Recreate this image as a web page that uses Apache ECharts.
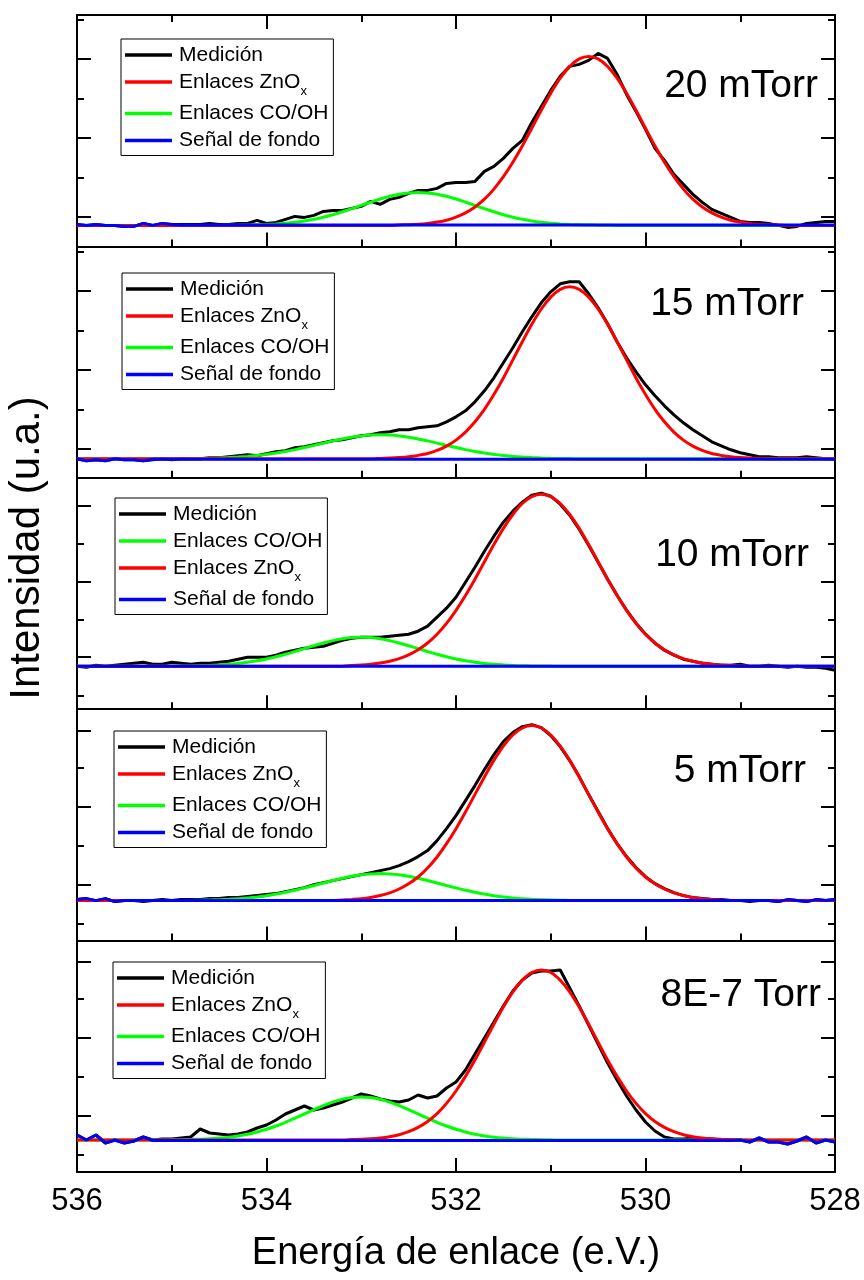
<!DOCTYPE html>
<html><head><meta charset="utf-8">
<script src="https://cdn.jsdelivr.net/npm/echarts@6/dist/echarts.min.js"></script>
<style>html,body{margin:0;padding:0;background:#fff}#c{width:864px;height:1280px}</style>
</head><body><div id="c"></div>
<script>
// ---------- DATA ----------
const energy = [536,535.9,535.8,535.7,535.6,535.5,535.4,535.3,535.2,535.1,
535,534.9,534.8,534.7,534.6,534.5,534.4,534.3,534.2,534.1,
534,533.9,533.8,533.7,533.6,533.5,533.4,533.3,533.2,533.1,
533,532.9,532.8,532.7,532.6,532.5,532.4,532.3,532.2,532.1,
532,531.9,531.8,531.7,531.6,531.5,531.4,531.3,531.2,531.1,
531,530.9,530.8,530.7,530.6,530.5,530.4,530.3,530.2,530.1,
530,529.9,529.8,529.7,529.6,529.5,529.4,529.3,529.2,529.1,
529,528.9,528.8,528.7,528.6,528.5,528.4,528.3,528.2,528.1,
528];
const panelLabels = ['20 mTorr','15 mTorr','10 mTorr','5 mTorr','8E-7 Torr'];
const xTickValues = [536,534,532,530,528];

// 20 mTorr
const meas1 = [22,21,22,21,21,20,20,23,21,23, 22,22,22,22,23,22,22,23,23,26, 23,24,27,30,29,31,35,36,36,38,
 40,45,42,47,49,53,56,56,58,63, 64,64,65,75,80,88,98,106,124,140, 156,170,180,182,186,193,188,172,152,135,
 117,98,86,72,62,52,44,37,33,29, 25,24,24,23,21,19,20,23,24,25, 25];
const zno1 = [21,21,21,21,21,21,21,21,21,21, 21,21,21,21,21,21,21,21,21,21, 21,21,21,21,21,21,21,21,21,21,
 21,21,21,21,21.4,21.7,22.2,23,24.3,26.2, 29.3,33.5,39.4,47.2,57.3,69.7,84.2,100.4,118.2,136.1,
 153.2,168.2,179.9,187.5,190,187.5,179.9,168.2,153.2,136.1, 118.2,100.4,84.2,69.7,57.3,47.2,39.4,33.5,29.3,26.2,
 24.3,23,22.2,21.7,21.4,21,21,21,21,21, 21];
const coh1 = [21,21,21,21,21,21,21,21,21,21, 21,21,21,21,21,21,21.1,21.2,21.4,21.6, 22,22.5,23.2,24.2,25.5,27.1,29.2,31.7,34.6,37.7,
 41,44.3,47.4,50.1,52.2,53.5,54,53.5,52.2,50.1, 47.4,44.3,41,37.7,34.6,31.7,29.2,27.1,25.5,24.2,
 23.2,22.5,22,21.6,21.4,21.2,21.1,21,21,21, 21,21,21,21,21,21,21,21,21,21, 21,21,21,21,21,21,21,21,21,21, 21];
const bg1 = [22,21,22,21,21,20,20,23,21,23, 22,21.5,21.5,21.5,21.5,21.5,21.5,21.5,21.5,21.5,
 21.5,21.5,21.5,21.5,21.5,21.5,21.5,21.5,21.5,21.5, 21.5,21.5,21.5,21.5,21.5,21.5,21.5,21.5,21.5,21.5,
 21.5,21.5,21.5,21.5,21.5,21.5,21.5,21.5,21.5,21.5, 21.5,21.5,21.5,21.5,21.5,21.5,21.5,21.5,21.5,21.5,
 21.5,21.5,21.5,21.5,21.5,21.5,21.5,21.5,21.5,21.5, 21.5,21.5,21.5,21.5,21.5,21.5,21.5,21.5,21.5,21.5, 21.5];

// 15 mTorr
const meas2 = [19,17,18,17,19,18,18,17,18,19, 18,19,19,19,20,20,21,22,23,22, 24,26,27,30,31,33,35,37,38,40,
 42,43,45,46,48,48,50,51,52,56, 61,67,76,87,100,115,130,146,161,175, 186,194,196,196,184,170,154,136,120,106,
 93,82,72,63,55,48,42,36,32,28, 25,23,21,21,20,20,20,21,20,19, 19];
const zno2 = [19,19,19,19,19,19,19,19,19,19, 19,19,19,19,19,19,19,19,19,19, 19,19,19,19,19,19,19,19,19,19,
 19,19,19.4,19.7,20.2,21,22.4,24.3,27.4,31.7, 37.7,45.7,56,68.5,83.3,99.8,117.9,136.1,153.5,168.8,
 180.7,188.4,191,188.4,180.7,168.8,153.5,136.1,117.9,99.8, 83.3,68.5,56,45.7,37.7,31.7,27.4,24.3,22.4,21,
 20.2,19.7,19.4,19,19,19,19,19,19,19, 19];
const coh2 = [19,19,19,19,19,19,19,19,19,19, 19,19,19.2,19.3,19.5,19.8,20.2,20.7,21.4,22.2, 23.4,24.7,26.3,28.2,30.3,32.4,34.7,36.9,38.8,40.6,
 41.9,42.7,43,42.7,41.9,40.6,38.8,36.9,34.7,32.4, 30.3,28.2,26.3,24.7,23.4,22.2,21.4,20.7,20.2,19.8,
 19.5,19.3,19.2,19,19,19,19,19,19,19, 19,19,19,19,19,19,19,19,19,19, 19,19,19,19,19,19,19,19,19,19, 19];
const bg2 = [19,17,18,17,19,18,18,17,18.5,18.5, 18.5,18.5,18.5,18.5,18.5,18.5,18.5,18.5,18.5,18.5,
 18.5,18.5,18.5,18.5,18.5,18.5,18.5,18.5,18.5,18.5, 18.5,18.5,18.5,18.5,18.5,18.5,18.5,18.5,18.5,18.5,
 18.5,18.5,18.5,18.5,18.5,18.5,18.5,18.5,18.5,18.5, 18.5,18.5,18.5,18.5,18.5,18.5,18.5,18.5,18.5,18.5,
 18.5,18.5,18.5,18.5,18.5,18.5,18.5,18.5,18.5,18.5, 18.5,18.5,18.5,18.5,18.5,18.5,18.5,18.5,18.5,18.5, 18.5];

// 10 mTorr
const meas3 = [43,42,44,43,44,45,46,47,45,45, 47,46,45,46,46,47,48,50,52,52, 52,54,57,59,61,62,63,66,69,71,
 72,72,72,73,74,75,78,83,92,101, 112,127,142,158,173,187,198,207,214,216, 213,205,194,180,164,147,130,114,99,86,
 75,66,59,54,50,48,46,45,44,44, 45,43,43,44,43,42,43,42,42,41, 39];
const zno3 = [43,43,43,43,43,43,43,43,43,43, 43,43,43,43,43,43,43,43,43,43, 43,43,43,43,43,43,43,43,43,43.7,
 44.1,44.9,46.1,48,50.6,54.4,59.5,66.2,75,85.8, 98.9,113.7,130,147.4,164.6,180.8,194.7,205.7,212.6,215,
 212.6,205.7,194.7,180.8,164.6,147.4,130,113.7,98.9,85.8, 75,66.2,59.5,54.4,50.6,48,46.1,44.9,44.1,43.7,
 43,43,43,43,43,43,43,43,43,43, 43];
const coh3 = [43,43,43,43,43,43,43,43,43,43, 43.1,43.2,43.3,43.5,43.8,44.3,44.9,45.8,46.9,48.4, 50.2,52.4,54.9,57.7,60.6,63.5,66.2,68.6,70.4,71.6,
 72,71.6,70.4,68.6,66.2,63.5,60.6,57.7,54.9,52.4, 50.2,48.4,46.9,45.8,44.9,44.3,43.8,43.5,43.3,43.2,
 43.1,43,43,43,43,43,43,43,43,43, 43,43,43,43,43,43,43,43,43,43, 43,43,43,43,43,43,43,43,43,43, 43];
const bg3 = [43,43,43,43,43,43,43,43,43,43, 43,43,43,43,43,43,43,43,43,43, 43,43,43,43,43,43,43,43,43,43,
 43,43,43,43,43,43,43,43,43,43, 43,43,43,43,43,43,43,43,43,43, 43,43,43,43,43,43,43,43,43,43,
 43,43,43,43,43,43,43,43,43,43, 43,43,43,43,43,43,43,43,43,43, 43];

// 5 mTorr
const meas4 = [41,42,40,42,39,40,40,39,40,41, 40,41,41,41,42,42,43,43,44,45, 46,47,49,51,53,56,58,60,62,64,
 66,68,70,72,75,79,84,90,100,112, 125,140,155,171,186,199,208,214,216,213, 205,194,180,164,146,129,112,97,84,73,
 64,57,52,48,45,43,42,41,41,40, 40,39,40,40,39,41,40,39,41,40, 41];
const zno4 = [40,40,40,40,40,40,40,40,40,40, 40,40,40,40,40,40,40,40,40,40, 40,40,40,40,40,40,40,40,40.7,41.2,
 41.9,43.2,45.1,47.7,51.6,56.8,63.6,72.6,83.6,96.9, 111.9,128.6,146.2,163.7,180.2,194.4,205.6,212.6,215,212.6,
 205.6,194.4,180.2,163.7,146.2,128.6,111.9,96.9,83.6,72.6, 63.6,56.8,51.6,47.7,45.1,43.2,41.9,41.2,40.7,40,
 40,40,40,40,40,40,40,40,40,40, 40];
const coh4 = [40,40,40,40,40,40,40,40,40,40, 40,40,40.2,40.4,40.6,40.9,41.3,41.9,42.6,43.6, 44.9,46.5,48.3,50.3,52.7,55.1,57.6,60.1,62.3,64.3,
 65.8,66.7,67,66.7,65.8,64.3,62.3,60.1,57.6,55.1, 52.7,50.3,48.3,46.5,44.9,43.6,42.6,41.9,41.3,40.9,
 40.6,40.4,40.2,40,40,40,40,40,40,40, 40,40,40,40,40,40,40,40,40,40, 40,40,40,40,40,40,40,40,40,40, 40];
const bg4 = [41,42,40,42,39,40,40,40,40,40, 40,40,40,40,40,40,40,40,40,40, 40,40,40,40,40,40,40,40,40,40,
 40,40,40,40,40,40,40,40,40,40, 40,40,40,40,40,40,40,40,40,40, 40,40,40,40,40,40,40,40,40,40,
 40,40,40,40,40,40,40,40,40,40, 40,40,40,40,39,41,40,39,41,40, 41];

// 8E-7 Torr
const meas5 = [37,32,37,29,32,29,31,35,32,33, 33,34,35,43,39,38,37,38,40,44, 47,52,58,62,66,62,64,67,70,74,
 78,76,73,71,70,72,77,74,76,84, 90,102,118,134,150,166,181,192,199,201, 201,202,184,166,147,128,109,92,76,62,
 50,41,35,33,33,34,33,33,32,32, 32,30,34,30,30,28,31,35,29,32, 30];
const zno5 = [32,32,32,32,32,32,32,32,32,32, 32,32,32,32,32,32,32,32,32,32, 32,32,32,32,32,32,32,32,32,32.4,
 32.7,33.2,34,35.3,37.3,40.3,44.6,50.5,58.4,68.6, 81,95.6,111.9,129.8,147.8,164.9,180.1,191.8,199.5,202,
 199.5,191.8,180.1,164.9,147.8,129.8,111.9,95.6,81,68.6, 58.4,50.5,44.6,40.3,37.3,35.3,34,33.2,32.7,32.4,
 32,32,32,32,32,32,32,32,32,32, 32];
const coh5 = [32,32,32,32,32,32,32,32,32,32, 32.2,32.3,32.5,32.8,33.2,33.9,34.8,36.1,37.8,40, 42.7,46,49.7,53.8,58.1,62.4,66.4,69.9,72.7,74.4,
 75,74.4,72.7,69.9,66.4,62.4,58.1,53.8,49.7,46, 42.7,40,37.8,36.1,34.8,33.9,33.2,32.8,32.5,32.3,
 32.2,32,32,32,32,32,32,32,32,32, 32,32,32,32,32,32,32,32,32,32, 32,32,32,32,32,32,32,32,32,32, 32];
const bg5 = [37,32,37,29,32,29,31,35,31.5,31.5, 31.5,31.5,31.5,31.5,31.5,31.5,31.5,31.5,31.5,31.5,
 31.5,31.5,31.5,31.5,31.5,31.5,31.5,31.5,31.5,31.5, 31.5,31.5,31.5,31.5,31.5,31.5,31.5,31.5,31.5,31.5,
 31.5,31.5,31.5,31.5,31.5,31.5,31.5,31.5,31.5,31.5, 31.5,31.5,31.5,31.5,31.5,31.5,31.5,31.5,31.5,31.5,
 31.5,31.5,31.5,31.5,31.5,31.5,31.5,31.5,31.5,31.5, 32,30,34,30,30,28,31,35,29,32, 30];

// y tick positions (a.u.) per panel
const yMajorTicks = [[30,109,188],[29,108,187],[52,127,203],[56,134,210],[56,134,210]];
const yMinorTicks = [[69,148,227],[68,147,226],[13,89,165],[17,95,173],[17,95,173]];

// ---------- LAYOUT / STYLE ----------
const N_MEAS = 'Medición', N_ZNO = 'Enlaces ZnOx', N_COH = 'Enlaces CO/OH', N_BG = 'Señal de fondo';
const legendOrders = [
  [N_MEAS, N_ZNO, N_COH, N_BG],
  [N_MEAS, N_ZNO, N_COH, N_BG],
  [N_MEAS, N_COH, N_ZNO, N_BG],
  [N_MEAS, N_ZNO, N_COH, N_BG],
  [N_MEAS, N_ZNO, N_COH, N_BG]
];
const panels = [
  {meas: meas1, zno: zno1, coh: coh1, bg: bg1},
  {meas: meas2, zno: zno2, coh: coh2, bg: bg2},
  {meas: meas3, zno: zno3, coh: coh3, bg: bg3},
  {meas: meas4, zno: zno4, coh: coh4, bg: bg4},
  {meas: meas5, zno: zno5, coh: coh5, bg: bg5}
];
const FONT = '"Liberation Sans", Arial, Helvetica, sans-serif';
const GL = 77, GW = 758, GT = 15, GH = 231.4, YMAX = 231.4;
const legendPos = [[121,39],[122,273],[115,498],[114,731],[113,962]];
const labelPos = [[818,88],[804,306],[809,557],[806,773],[821,997]];
const COLORS = {meas:'#000000', zno:'#ff0000', coh:'#00ff00', bg:'#0000ff'};

const grid = [], xAxis = [], yAxis = [], series = [], legend = [], graphic = [];
const toPairs = arr => arr.map((v, i) => [energy[i], v]);

function xAx(p, pos, showLabels) {
  return {
    gridIndex: p, type: 'value', min: 528, max: 536, inverse: true, interval: 2, position: pos,
    axisLine: {show: true, onZero: false, lineStyle: {color: '#000', width: 2}},
    axisTick: {show: true, inside: true, length: 14, lineStyle: {color: '#000', width: 2}},
    minorTick: {show: true, splitNumber: 2, length: 7, lineStyle: {color: '#000', width: 2}},
    splitLine: {show: false}, minorSplitLine: {show: false},
    axisLabel: {show: showLabels, fontSize: 31, fontFamily: FONT, color: '#000', margin: 14,
      customValues: xTickValues},
    name: showLabels ? 'Energía de enlace (e.V.)' : '',
    nameLocation: 'middle', nameGap: 63,
    nameTextStyle: {fontSize: 38, fontFamily: FONT, color: '#000'}
  };
}
function yAx(p, pos, vals, len, showLine) {
  return {
    gridIndex: p, type: 'value', min: 0, max: YMAX, position: pos,
    axisLine: {show: showLine, onZero: false, lineStyle: {color: '#000', width: 2}},
    axisTick: {show: true, inside: true, length: len, customValues: vals, lineStyle: {color: '#000', width: 2}},
    axisLabel: {show: false}, splitLine: {show: false}
  };
}

panels.forEach((pd, p) => {
  grid.push({left: GL, width: GW, top: GT + p * GH, height: GH});
  xAxis.push(xAx(p, 'bottom', p === 4));
  yAxis.push(yAx(p, 'left', yMajorTicks[p], 14, true));
  yAxis.push(yAx(p, 'left', yMinorTicks[p], 7, false));
  yAxis.push(yAx(p, 'right', yMajorTicks[p], 14, true));
  yAxis.push(yAx(p, 'right', yMinorTicks[p], 7, false));
  const mk = (name, arr, col, smooth, z) => ({
    name, type: 'line', xAxisIndex: p, yAxisIndex: 4 * p, data: toPairs(arr),
    showSymbol: false, symbol: 'none', smooth, z, color: col,
    lineStyle: {color: col, width: 3}, itemStyle: {color: col}, silent: true
  });
  series.push(mk(N_MEAS, pd.meas, COLORS.meas, false, 2));
  series.push(mk(N_COH, pd.coh, COLORS.coh, 0.3, 3));
  series.push(mk(N_ZNO, pd.zno, COLORS.zno, 0.3, 4));
  series.push(mk(N_BG, pd.bg, COLORS.bg, false, 5));
  legend.push({
    left: legendPos[p][0], top: legendPos[p][1], orient: 'vertical', data: legendOrders[p],
    selectedMode: false, icon: 'rect', itemWidth: 47, itemHeight: 3.5, itemGap: 5,
    borderColor: '#000', borderWidth: 1, padding: [5, 5, 4, 4], backgroundColor: '#fff',
    formatter: n => n === N_ZNO ? 'Enlaces ZnO{sub|x}' : n,
    textStyle: {fontSize: 21, fontFamily: FONT, color: '#000', lineHeight: 22, padding: [0, 0, 0, 2],
      rich: {sub: {fontSize: 13, fontFamily: FONT, color: '#000', padding: [18, 0, 0, 0]}}}
  });
  graphic.push({
    type: 'text', right: 864 - labelPos[p][0], top: labelPos[p][1] - 21,
    style: {text: panelLabels[p], font: '39px ' + FONT, fill: '#000'}
  });
});
// top axis of first panel
xAxis.push(Object.assign(xAx(0, 'top', false), {name: ''}));

graphic.push({
  type: 'text', x: 27, y: 548, rotation: Math.PI / 2,
  style: {text: 'Intensidad (u.a.)', font: '42px ' + FONT, fill: '#000', align: 'center', verticalAlign: 'middle'}
});

const chart = echarts.init(document.getElementById('c'), null, {renderer: 'canvas'});
chart.setOption({animation: false, backgroundColor: '#fff', grid, xAxis, yAxis, series, legend, graphic});
</script></body></html>
